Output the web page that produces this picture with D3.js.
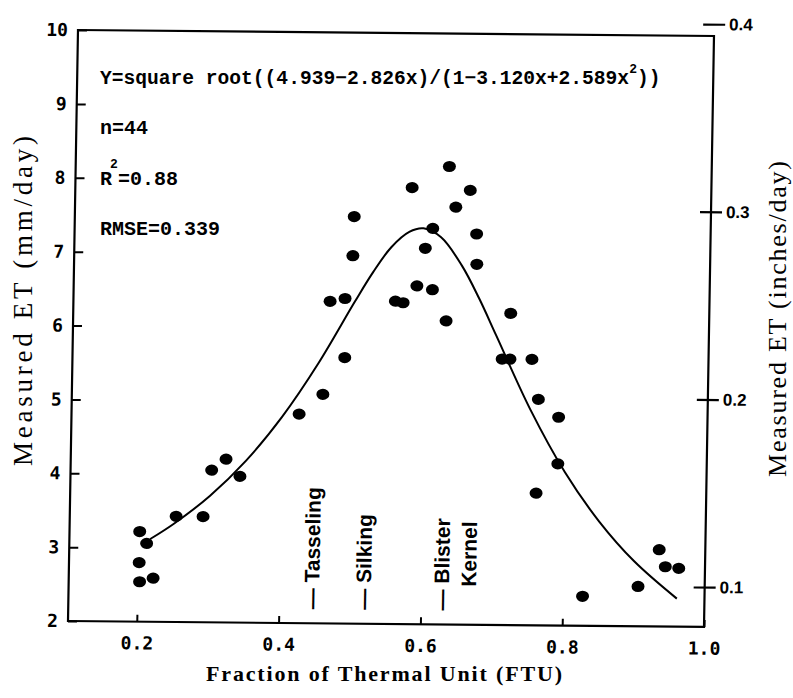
<!DOCTYPE html>
<html>
<head>
<meta charset="utf-8">
<script src="https://cdnjs.cloudflare.com/ajax/libs/d3/7.8.5/d3.min.js"></script>
<style>
  body { margin: 0; background: #fff; }
  .mono { font-family: "Liberation Mono", "DejaVu Sans Mono", monospace; font-weight: bold; }
  .tick-lbl { font-family: "DejaVu Sans Mono", "Liberation Mono", monospace; font-weight: bold; }
  .serif { font-family: "Liberation Serif", "DejaVu Serif", serif; }
</style>
</head>
<body>
<svg id="chart" width="793" height="698"></svg>
<script>
// measured ET points (FTU, mm/day)
var ftu = [0.202, 0.212, 0.202, 0.203, 0.222, 0.253, 0.291, 0.302, 0.322, 0.342,
           0.424, 0.457, 0.630, 0.578, 0.660, 0.640, 0.497, 0.608, 0.670, 0.598,
           0.496, 0.671, 0.587, 0.609, 0.465, 0.486, 0.557, 0.568, 0.720, 0.629,
           0.487, 0.709, 0.720, 0.751, 0.761, 0.790, 0.790, 0.760, 0.935, 0.944,
           0.963, 0.906, 0.828];
var et = [3.22, 3.06, 2.80, 2.54, 2.59, 3.43, 3.43, 4.06, 4.21, 3.98,
          4.83, 5.10, 8.20, 7.91, 7.88, 7.65, 7.51, 7.36, 7.29, 7.09,
          6.98, 6.88, 6.58, 6.53, 6.36, 6.40, 6.37, 6.35, 6.22, 6.11,
          5.60, 5.60, 5.60, 5.60, 5.06, 4.82, 4.19, 3.79, 3.04, 2.81,
          2.79, 2.54, 2.40];

// fitted curve
var fitFtu = [0.217, 0.25, 0.30, 0.35, 0.40, 0.45, 0.50, 0.525, 0.55, 0.575,
              0.595, 0.62, 0.65, 0.675, 0.70, 0.75, 0.80, 0.85, 0.90, 0.961];
var fitEt = [3.12, 3.33, 3.71, 4.19, 4.79, 5.52, 6.36, 6.76, 7.10, 7.31,
             7.36, 7.24, 6.86, 6.42, 5.92, 4.92, 4.08, 3.41, 2.88, 2.38];

// growth stages
var stageNames = ["Tasseling", "Silking", "Blister"];
var stageFtu = [0.448, 0.521, 0.631];
var stageSecond = ["", "", "Kernel"];

var xTicks = [0.2, 0.4, 0.6, 0.8, 1.0];
var yTicks = [2, 3, 4, 5, 6, 7, 8, 9, 10];
var inchTicks = [0.1, 0.2, 0.3, 0.4];

var W = 636, H = 591;
var svg = d3.select("#chart");

// the scanned frame is slightly skewed
var kx = 0.0169, ky = 0.0094;
var g = svg.append("g")
  .attr("transform", "translate(68,621) matrix(1," + ky + "," + (-kx) + ",1,0,0)");

var x = d3.scaleLinear().domain([0.103, 1.0]).range([0, W]);
var y = d3.scaleLinear().domain([2, 10]).range([0, -H]);
var yIn = d3.scaleLinear().domain([2 / 25.4, 10 / 25.4]).range([0, -H]);

// frame
g.append("rect")
  .attr("x", 0).attr("y", -H).attr("width", W).attr("height", H)
  .attr("fill", "none").attr("stroke", "#000").attr("stroke-width", 2.2);

var yAxis = g.append("g")
  .call(d3.axisLeft(y).tickValues(yTicks).tickSize(-9).tickPadding(10).tickFormat(d3.format("d")));
yAxis.select(".domain").remove();
yAxis.selectAll("line").attr("stroke-width", 2);
yAxis.selectAll("text").attr("class", "tick-lbl").attr("font-size", 18).attr("fill", "#000");

var xAxis = g.append("g")
  .call(d3.axisBottom(x).tickValues(xTicks).tickSize(-7).tickPadding(15).tickFormat(d3.format(".1f")));
xAxis.select(".domain").remove();
xAxis.selectAll("line").attr("stroke-width", 2);
xAxis.selectAll("text").attr("class", "tick-lbl").attr("font-size", 18).attr("fill", "#000");

var rAxis = g.append("g")
  .attr("transform", "translate(" + W + ",0)")
  .call(d3.axisRight(yIn).tickValues(inchTicks).tickSize(11).tickPadding(4).tickFormat(d3.format(".1f")));
rAxis.select(".domain").remove();
rAxis.selectAll("line").attr("x1", -11).attr("stroke-width", 2.2);
rAxis.selectAll("text")
  .attr("font-family", "'Liberation Sans Narrow', 'Arial Narrow', 'Liberation Sans', sans-serif")
  .attr("font-weight", "bold").attr("font-size", 17).attr("fill", "#000");

// fitted curve
var line = d3.line()
  .x(function (d, i) { return x(fitFtu[i]); })
  .y(function (d) { return y(d); })
  .curve(d3.curveCatmullRom.alpha(0.5));
g.append("path")
  .datum(fitEt)
  .attr("d", line)
  .attr("fill", "none").attr("stroke", "#000").attr("stroke-width", 2);

// points
g.selectAll("ellipse.pt")
  .data(et)
  .enter().append("ellipse")
  .attr("class", "pt")
  .attr("cx", function (d, i) { return x(ftu[i]); })
  .attr("cy", function (d) { return y(d); })
  .attr("rx", 6.5).attr("ry", 5.6)
  .attr("fill", "#000");

// stage labels, rotated
var stageFont = "'Liberation Sans', 'DejaVu Sans', sans-serif";
stageNames.forEach(function (name, i) {
  var bx = x(stageFtu[i]) + 6;
  g.append("text")
    .attr("transform", "translate(" + bx + ",-14) rotate(-90)")
    .attr("font-family", stageFont).attr("font-weight", "bold").attr("font-size", 21)
    .attr("fill", "#000")
    .text("\u2014 " + name);
  if (stageSecond[i]) {
    g.append("text")
      .attr("transform", "translate(" + (bx + 27) + ",-38) rotate(-90)")
      .attr("font-family", stageFont).attr("font-weight", "bold").attr("font-size", 21)
      .attr("fill", "#000")
      .text(stageSecond[i]);
  }
});

// equation and statistics
var eq = svg.append("text").attr("class", "mono").attr("font-size", 19.6)
  .attr("x", 100).attr("y", 84);
eq.append("tspan").text("Y=square root((4.939\u22122.826x)/(1\u22123.120x+2.589x");
eq.append("tspan").attr("font-size", 13).attr("dy", -11).text("2");
eq.append("tspan").attr("dy", 11).text("))");

svg.append("text").attr("class", "mono").attr("font-size", 20)
  .attr("x", 100).attr("y", 134).text("n=44");

svg.append("text").attr("class", "mono").attr("font-size", 20)
  .attr("x", 100).attr("y", 185).text("R");
svg.append("text").attr("class", "mono").attr("font-size", 13)
  .attr("x", 110).attr("y", 168).text("2");
svg.append("text").attr("class", "mono").attr("font-size", 20)
  .attr("x", 118).attr("y", 185).text("=0.88");

svg.append("text").attr("class", "mono").attr("font-size", 20)
  .attr("x", 100).attr("y", 235).text("RMSE=0.339");

// axis titles
svg.append("text").attr("class", "serif")
  .attr("transform", "translate(32,301) rotate(-90)")
  .attr("text-anchor", "middle").attr("font-size", 27)
  .attr("textLength", 330).attr("lengthAdjust", "spacing")
  .text("Measured ET (mm/day)");

svg.append("text").attr("class", "serif")
  .attr("transform", "translate(786,319) rotate(-90)")
  .attr("text-anchor", "middle").attr("font-size", 26)
  .attr("textLength", 316).attr("lengthAdjust", "spacing")
  .text("Measured ET (inches/day)");

svg.append("text").attr("class", "serif")
  .attr("x", 384).attr("y", 681)
  .attr("text-anchor", "middle").attr("font-size", 22).attr("font-weight", "bold")
  .attr("textLength", 356).attr("lengthAdjust", "spacing")
  .text("Fraction of Thermal Unit (FTU)");
</script>
</body>
</html>
